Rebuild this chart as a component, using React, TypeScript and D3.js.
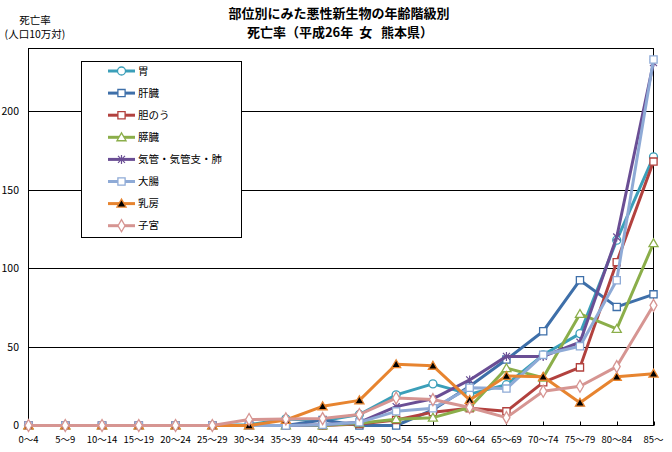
import React, { useEffect, useRef } from 'react';
import * as d3 from 'd3';

// age groups (x axis)
const categories = [
  '0～4', '5～9', '10～14', '15～19', '20～24', '25～29', '30～34', '35～39', '40～44',
  '45～49', '50～54', '55～59', '60～64', '65～69', '70～74', '75～79', '80～84', '85～',
];

// death rate per 100,000
const stomach = [0, 0, 0, 0, 0, 0, 0.5, 4.2, 3, 7, 19.5, 26.5, 20, 26, 45, 58.5, 118, 171];
const liver = [0, 0, 0, 0, 0, 0, 0, 0, 3.5, 0, 0, 10, 25, 42, 60, 92.5, 75.5, 83.5];
const gallbladder = [0, 0, 0, 0, 0, 0, 0, 0, 0, 1, 3.5, 8.5, 11, 9, 27.5, 37, 104, 168];
const pancreas = [0, 0, 0, 0, 0, 0, 0, 0, 0, 1.5, 4, 5, 11.5, 36.5, 30.5, 71, 61.5, 116];
const lung = [0, 0, 0, 0, 0, 0, 0, 0, 0.5, 2, 12, 17, 29, 44, 44, 53, 120, 231];
const colon = [0, 0, 0, 0, 0, 0, 0, 0, 0.5, 2, 9, 11, 24, 23.5, 45, 50.5, 92.5, 233];
const breast = [0, 0, 0, 0, 0, 0, 0, 3.5, 12.2, 16, 39, 38, 16.3, 31.5, 31, 14.5, 31, 33];
const uterus = [0, 0, 0, 0, 0, 0, 3.8, 4.2, 4.4, 7, 17.5, 16.5, 11.5, 5, 21.8, 25, 37.5, 76.5];

const yTicks = [0, 50, 100, 150, 200];

type Marker = 'circle' | 'square' | 'triangle' | 'star' | 'filledTriangle' | 'diamond';

interface Series {
  name: string;
  values: number[];
  color: string;
  marker: Marker;
}

const series: Series[] = [
  { name: '胃', values: stomach, color: '#3b9fb9', marker: 'circle' },
  { name: '肝臓', values: liver, color: '#3e6fa9', marker: 'square' },
  { name: '胆のう', values: gallbladder, color: '#b2413e', marker: 'square' },
  { name: '膵臓', values: pancreas, color: '#8bae4a', marker: 'triangle' },
  { name: '気管・気管支・肺', values: lung, color: '#6a4e94', marker: 'star' },
  { name: '大腸', values: colon, color: '#8eaad6', marker: 'square' },
  { name: '乳房', values: breast, color: '#e7842f', marker: 'filledTriangle' },
  { name: '子宮', values: uterus, color: '#d69592', marker: 'diamond' },
];

const FONT = '"Noto Sans CJK JP", sans-serif';

const drawMarker = (
  g: d3.Selection<SVGGElement, unknown, null, undefined>,
  x: number,
  y: number,
  s: Series
) => {
  if (s.marker === 'star') {
    g.append('path')
      .attr('d', `M${x - 3.5},${y - 3.5}L${x + 3.5},${y + 3.5}M${x - 3.5},${y + 3.5}L${x + 3.5},${y - 3.5}M${x},${y - 4.5}L${x},${y + 4.5}`)
      .attr('stroke', s.color)
      .attr('stroke-width', 1.2)
      .attr('fill', 'none');
    return;
  }
  const types: Record<string, d3.SymbolType> = {
    circle: d3.symbolCircle,
    square: d3.symbolSquare,
    triangle: d3.symbolTriangle,
    filledTriangle: d3.symbolTriangle,
    diamond: d3.symbolDiamond,
  };
  const sizes: Record<string, number> = {
    circle: 50,
    square: 52,
    triangle: 36,
    filledTriangle: 36,
    diamond: 42,
  };
  g.append('path')
    .attr('d', d3.symbol().type(types[s.marker]).size(sizes[s.marker])() as string)
    .attr('transform', `translate(${x},${y + (s.marker.includes('riangle') ? 0.8 : 0)})`)
    .attr('fill', s.marker === 'filledTriangle' ? '#000' : '#fff')
    .attr('stroke', s.color)
    .attr('stroke-width', 1.3);
};

const App: React.FC = () => {
  const svgRef = useRef<SVGSVGElement>(null);

  useEffect(() => {
    if (!svgRef.current) return;
    const svg = d3.select(svgRef.current);
    svg.selectAll('*').remove();

    const left = 28.5;
    const right = 653.5;
    const top = 48.5;
    const bottom = 425.5;

    const xScale = d3.scalePoint<string>().domain(categories).range([left, right]);
    const yScale = d3.scaleLinear().domain([0, 240]).range([bottom, top]);

    // titles
    svg.append('text')
      .attr('x', 339).attr('y', 18)
      .attr('text-anchor', 'middle')
      .attr('font-family', FONT).attr('font-size', 13).attr('font-weight', 'bold')
      .text('部位別にみた悪性新生物の年齢階級別');
    svg.append('text')
      .attr('x', 340).attr('y', 37)
      .attr('text-anchor', 'middle')
      .style('white-space', 'pre')
      .attr('font-family', FONT).attr('font-size', 13).attr('font-weight', 'bold')
      .text('死亡率（平成26年  女   熊本県）');

    svg.append('text')
      .attr('x', 35).attr('y', 24)
      .attr('text-anchor', 'middle')
      .attr('font-family', FONT).attr('font-size', 10.5)
      .text('死亡率');
    svg.append('text')
      .attr('x', 35).attr('y', 38)
      .attr('text-anchor', 'middle')
      .attr('font-family', FONT).attr('font-size', 10.5)
      .text('(人口10万対)');

    // gridlines
    yTicks.filter(t => t > 0).forEach(t => {
      svg.append('line')
        .attr('x1', left).attr('x2', right)
        .attr('y1', Math.round(yScale(t)) + 0.5).attr('y2', Math.round(yScale(t)) + 0.5)
        .attr('stroke', '#000').attr('stroke-width', 1);
    });

    // frame
    svg.append('rect')
      .attr('x', left).attr('y', top)
      .attr('width', right - left).attr('height', bottom - top)
      .attr('fill', 'none').attr('stroke', '#000').attr('stroke-width', 1);

    // x ticks (inward)
    categories.forEach(c => {
      const x = Math.round(xScale(c) as number) + 0.5;
      svg.append('line')
        .attr('x1', x).attr('x2', x)
        .attr('y1', bottom).attr('y2', bottom - 4)
        .attr('stroke', '#000');
    });

    // y labels
    yTicks.forEach(t => {
      svg.append('text')
        .attr('x', 19).attr('y', yScale(t))
        .attr('dy', '0.35em')
        .attr('text-anchor', 'end')
        .attr('font-family', FONT).attr('font-size', 10.5)
        .text(t);
    });

    // x labels
    categories.forEach(c => {
      svg.append('text')
        .attr('x', xScale(c) as number).attr('y', 443)
        .attr('text-anchor', 'middle')
        .attr('font-family', FONT).attr('font-size', 9.5)
        .text(c);
    });

    const line = d3.line<number>()
      .x((_, i) => xScale(categories[i]) as number)
      .y(d => yScale(d));

    series.forEach(s => {
      const g = svg.append('g');
      g.append('path')
        .datum(s.values)
        .attr('fill', 'none')
        .attr('stroke', s.color)
        .attr('stroke-width', 3)
        .attr('stroke-linejoin', 'round')
        .attr('d', line);
      s.values.forEach((v, i) => drawMarker(g, xScale(categories[i]) as number, yScale(v), s));
    });

    // legend
    const lg = svg.append('g');
    lg.append('rect')
      .attr('x', 81.5).attr('y', 61.5)
      .attr('width', 160).attr('height', 176)
      .attr('fill', '#fff').attr('stroke', '#000');
    series.forEach((s, i) => {
      const y = 71 + i * 22.1;
      const g = lg.append('g');
      g.append('line')
        .attr('x1', 108).attr('x2', 135)
        .attr('y1', y).attr('y2', y)
        .attr('stroke', s.color).attr('stroke-width', 3);
      drawMarker(g, 121.5, y, s);
      g.append('text')
        .attr('x', 138).attr('y', y)
        .attr('dy', '0.35em')
        .attr('font-family', FONT).attr('font-size', 10.5)
        .text(s.name);
    });
  }, []);

  return (
    <div style={{ position: 'absolute', left: 0, top: 0 }}>
      <svg ref={svgRef} width={672} height={452} style={{ display: 'block', background: '#fff' }} />
    </div>
  );
};

export default App;
